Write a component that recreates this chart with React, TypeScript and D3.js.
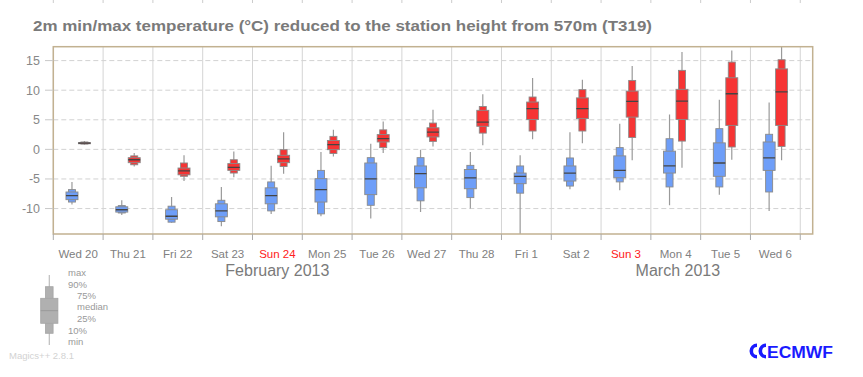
import React from "react";
import * as d3 from "d3";

const dayLabels = ["Wed 20", "Thu 21", "Fri 22", "Sat 23", "Sun 24", "Mon 25", "Tue 26", "Wed 27", "Thu 28", "Fri 1", "Sat 2", "Sun 3", "Mon 4", "Tue 5", "Wed 6"];
const monthLabels = ["February 2013", "March 2013"];
const monthDates = [new Date(Date.UTC(2013, 1, 24, 12)), new Date(Date.UTC(2013, 2, 4, 13))];
const yTicks = [-10, -5, 0, 5, 10, 15];

// daily minimum temperature distribution (blue)
const minMin = [-9.3, -11.1, -12.4, -13.0, -10.9, -11.3, -11.7, -10.6, -10.0, -14.3, -6.75, -6.9, -9.45, -7.65, -10.4];
const minP10 = [-8.9, -10.75, -12.3, -12.2, -10.4, -10.9, -9.45, -8.7, -8.15, -7.4, -6.2, -5.5, -6.35, -6.35, -7.2];
const minP25 = [-8.5, -10.6, -11.8, -11.4, -9.2, -8.9, -7.65, -6.5, -6.65, -5.8, -5.35, -4.8, -4.0, -4.55, -3.55];
const minMed = [-7.8, -10.2, -11.3, -10.4, -7.8, -6.8, -5.0, -4.1, -4.8, -4.55, -4.0, -3.55, -2.8, -2.3, -1.45];
const minP75 = [-7.2, -9.7, -10.2, -9.2, -6.5, -4.95, -2.3, -2.8, -3.4, -4.0, -2.8, -1.1, -0.3, 1.1, 1.25];
const minP90 = [-6.8, -9.5, -9.6, -8.6, -5.5, -3.55, -1.4, -1.4, -2.7, -2.8, -1.45, 0.3, 1.8, 3.5, 2.55];
const minMax = [-5.5, -8.6, -8.05, -6.35, -2.75, -0.45, 0.95, -0.05, -0.45, -1.0, 2.9, 4.35, 5.9, 8.4, 7.9];

// daily maximum temperature distribution (red)
const maxMin = [0.8, -2.9, -5.35, -4.7, -4.1, -1.2, -0.6, 0.5, 0.7, 1.7, 1.05, -1.85, -3.1, -1.75, -1.85];
const maxP10 = [0.9, -2.6, -4.55, -4.0, -2.9, -0.7, 0.3, 1.35, 2.75, 3.1, 3.1, 2.0, 1.4, 0.4, 0.5];
const maxP25 = [0.95, -2.25, -4.3, -3.55, -2.25, -0.05, 1.25, 2.1, 3.9, 5.05, 5.2, 5.45, 5.05, 4.05, 4.05];
const maxMed = [1.05, -1.75, -3.65, -3.05, -1.6, 0.8, 1.8, 2.9, 4.6, 6.9, 6.9, 8.1, 8.15, 9.4, 9.7];
const maxP75 = [1.15, -1.4, -3.15, -2.4, -1.0, 1.5, 2.5, 3.65, 6.6, 8.0, 8.7, 9.85, 10.15, 12.1, 13.6];
const maxP90 = [1.25, -1.1, -2.3, -1.75, -0.05, 2.2, 3.3, 4.45, 7.25, 8.85, 10.1, 11.65, 13.35, 14.75, 15.15];
const maxMax = [1.4, -0.6, -1.0, -0.35, 2.9, 3.3, 4.7, 6.7, 9.3, 12.05, 11.75, 14.1, 16.45, 16.7, 17.5];

const legendLabels = ["max", "90%", "75%", "median", "25%", "10%", "min"];

const W = 863, H = 377;
const L = 53.3, R = 812.7, T = 46.7, B = 234;
const FONT = "'Liberation Sans', Arial, sans-serif";

const start = new Date(Date.UTC(2013, 1, 20));
const end = new Date(Date.UTC(2013, 2, 7, 6));
const x = d3.scaleUtc().domain([start, end]).range([L, R]);
const y = d3.scaleLinear().domain([-14.3, 17.35]).range([B, T]);

const dayDate = (i: number, h = 0) => d3.utcHour.offset(d3.utcDay.offset(start, i), h);

type Stats = { mn: number; p10: number; p25: number; md: number; p75: number; p90: number; mx: number };

function BoxMark({ cx, s, fill }: { cx: number; s: Stats; fill: string }) {
  const wW = 12, nW = 7;
  return (
    <g>
      <line x1={cx} x2={cx} y1={y(s.mx)} y2={y(s.mn)} stroke="#9a9a9a" strokeWidth={1.2} />
      <rect x={cx - nW / 2} width={nW} y={y(s.p90)} height={Math.max(0.5, y(s.p10) - y(s.p90))} fill={fill} stroke="#8a8a8a" strokeWidth={0.9} />
      <rect x={cx - wW / 2} width={wW} y={y(s.p75)} height={Math.max(0.5, y(s.p25) - y(s.p75))} fill={fill} stroke="#8a8a8a" strokeWidth={0.9} />
      <line x1={cx - wW / 2} x2={cx + wW / 2} y1={y(s.md)} y2={y(s.md)} stroke="#444" strokeWidth={1.3} />
    </g>
  );
}

export default function App() {
  const days = dayLabels.map((_, i) => i);
  const boundaries = d3.range(dayLabels.length + 1).map((i) => dayDate(i));
  const blue = days.map((i) => ({ mn: minMin[i], p10: minP10[i], p25: minP25[i], md: minMed[i], p75: minP75[i], p90: minP90[i], mx: minMax[i] }));
  const red = days.map((i) => ({ mn: maxMin[i], p10: maxP10[i], p25: maxP25[i], md: maxMed[i], p75: maxP75[i], p90: maxP90[i], mx: maxMax[i] }));

  // legend geometry
  const lx = 49.3;
  const legendY = [273, 284.5, 295.5, 307, 319, 330.5, 341.5];
  const legendX = [68, 68, 77, 77, 77, 68, 68];

  return (
    <svg width={W} height={H} style={{ position: "absolute", left: 0, top: 0, background: "#fff" }} fontFamily={FONT}>
      <defs>
        <clipPath id="plot"><rect x={L} y={T} width={R - L} height={B - T} /></clipPath>
      </defs>
      <rect width={W} height={H} fill="#fff" />
      {boundaries.map((d, i) => (
        <line key={"tt" + i} x1={x(d)} x2={x(d)} y1={0} y2={3} stroke="#ccc" strokeWidth={1} />
      ))}
      <text x={33} y={30.5} fontSize={15.5} fontWeight="bold" fill="#7a7a7a" textLength={619} lengthAdjust="spacingAndGlyphs">
        2m min/max temperature (°C) reduced to the station height from 570m (T319)
      </text>

      {yTicks.map((t) => (
        <line key={"hg" + t} x1={L} x2={R} y1={y(t)} y2={y(t)} stroke="#d2d2d2" strokeWidth={1} strokeDasharray="5,3" />
      ))}
      {boundaries.map((d, i) => (
        <line key={"vg" + i} x1={x(d)} x2={x(d)} y1={T} y2={B} stroke="#d4d4d4" strokeWidth={1} />
      ))}

      <g clipPath="url(#plot)">
        {days.map((i) => (
          <BoxMark key={"b" + i} cx={x(dayDate(i, 9))} s={blue[i]} fill="#6e9ef8" />
        ))}
        {days.map((i) => (
          <BoxMark key={"r" + i} cx={x(dayDate(i, 15))} s={red[i]} fill="#f63434" />
        ))}
      </g>

      <rect x={L} y={T} width={R - L} height={B - T} fill="none" stroke="#c2b191" strokeWidth={1.5} />

      {yTicks.map((t) => (
        <g key={"yt" + t}>
          <line x1={45} x2={L} y1={y(t)} y2={y(t)} stroke="#c8c8c8" strokeWidth={1} />
          <text x={40} y={y(t) + 4.5} fontSize={12.5} fill="#888" textAnchor="end">{t}</text>
        </g>
      ))}

      {boundaries.map((d, i) => (
        <line key={"xt" + i} x1={x(d)} x2={x(d)} y1={B} y2={B + 6} stroke="#aaa" strokeWidth={1} />
      ))}
      {dayLabels.map((lab, i) => (
        <text key={"dl" + i} x={x(dayDate(i, 12))} y={258} fontSize={11.5} textAnchor="middle" fill={lab.startsWith("Sun") ? "#ff2020" : "#808080"}>
          {lab}
        </text>
      ))}
      {monthLabels.map((m, i) => (
        <text key={"ml" + i} x={x(monthDates[i])} y={276} fontSize={16} textAnchor="middle" fill="#7a7a7a">{m}</text>
      ))}

      <g>
        <line x1={lx} x2={lx} y1={275} y2={345} stroke="#bdbdbd" strokeWidth={1.2} />
        <rect x={lx - 3.8} width={7.6} y={286.7} height={46.6} fill="#b0b0b0" stroke="#a5a5a5" strokeWidth={0.8} />
        <rect x={lx - 8.6} width={17.2} y={298.3} height={25} fill="#b0b0b0" stroke="#a5a5a5" strokeWidth={0.8} />
        <line x1={lx - 8.6} x2={lx + 8.6} y1={310.7} y2={310.7} stroke="#999" strokeWidth={1} />
        {legendLabels.map((l, i) => (
          <text key={"lg" + i} x={legendX[i]} y={legendY[i] + 3} fontSize={9.5} fill="#999">{l}</text>
        ))}
        <text x={9} y={358.5} fontSize={9.5} fill="#d2d2d2">Magics++ 2.8.1</text>
      </g>

      <g fill="#1a1aff">
        <path d="M757,343.5 a7.5,7.5 0 1,0 0,15 l0,-3.6 a3.9,3.9 0 1,1 0,-7.8 z" />
        <path d="M766,343.5 a7.5,7.5 0 1,0 0,15 l0,-3.6 a3.9,3.9 0 1,1 0,-7.8 z" />
        <text x={767} y={357.5} fontSize={16} fontWeight="bold" textLength={66} lengthAdjust="spacingAndGlyphs" fontFamily={FONT}>ECMWF</text>
      </g>
    </svg>
  );
}
